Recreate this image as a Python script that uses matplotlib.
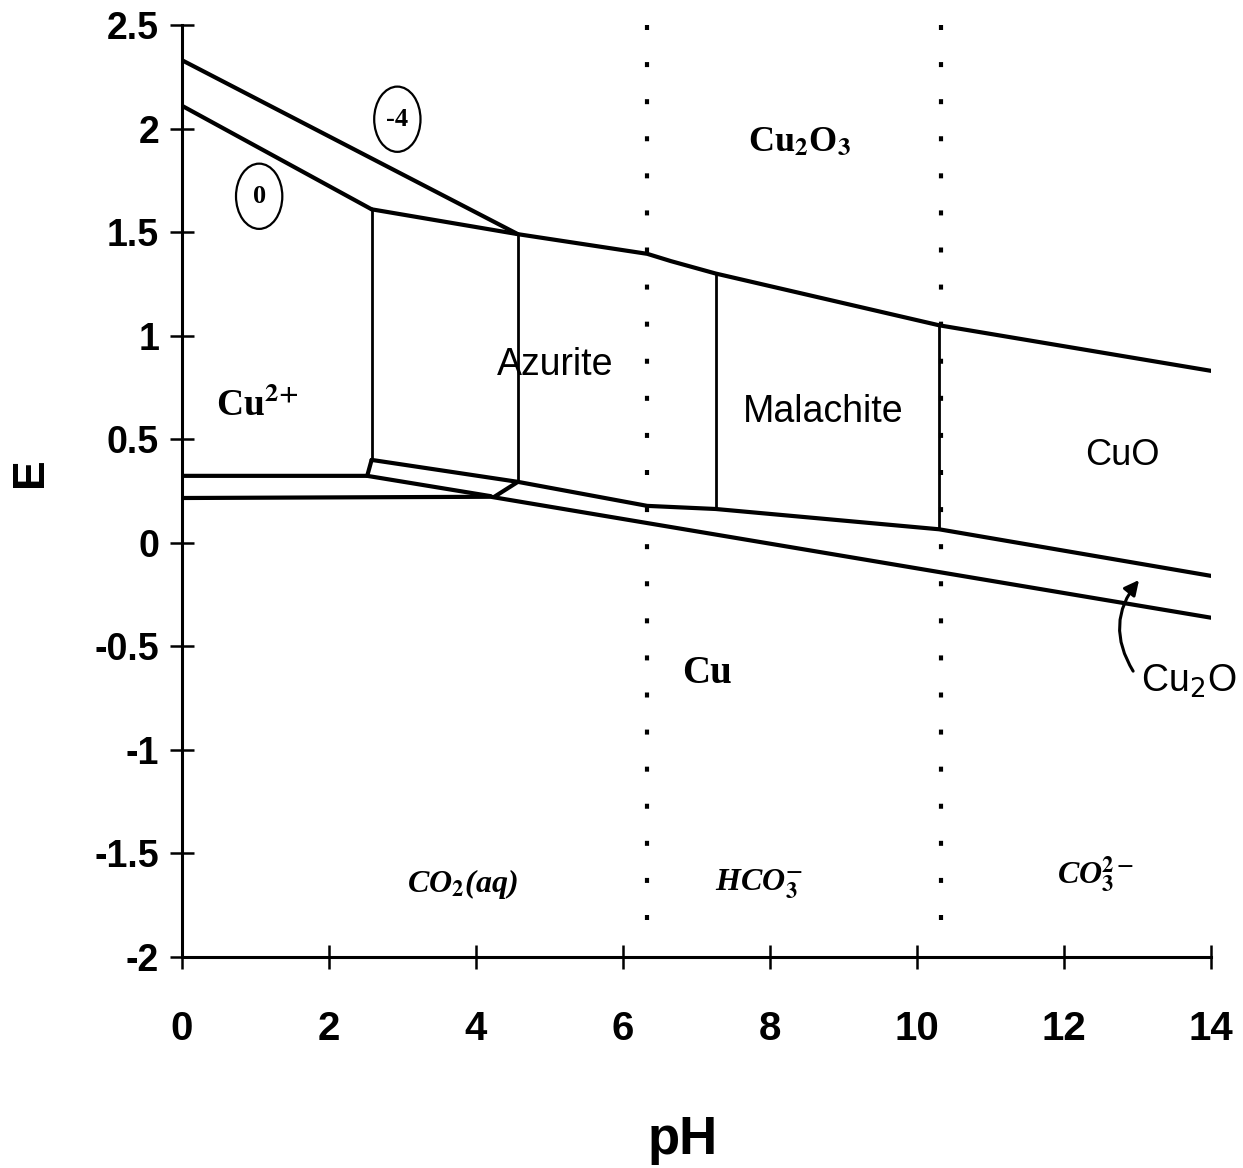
import matplotlib
matplotlib.use("Agg")
import matplotlib.pyplot as plt
from matplotlib.patches import Ellipse

# ---- data (pH, E) ----
ph_o2_m4 = [0.0, 4.57]
e_o2_m4 = [2.33, 1.49]

ph_o2_0 = [0.0, 2.58]
e_o2_0 = [2.11, 1.61]

ph_upper = [2.58, 4.57, 6.33, 6.65, 7.26, 10.30, 14.0]
e_upper = [1.61, 1.49, 1.395, 1.36, 1.30, 1.05, 0.83]

ph_middle = [2.58, 4.57, 6.33, 7.26, 10.30, 14.0]
e_middle = [0.40, 0.294, 0.178, 0.163, 0.065, -0.16]

ph_cu2_upper = [0.0, 2.52, 4.20]
e_cu2_upper = [0.323, 0.323, 0.225]

ph_cu_lower = [0.0, 4.20, 6.33, 14.0]
e_cu_lower = [0.216, 0.222, 0.095, -0.362]

# vertical boundaries: (pH, E top, E bottom)
vert_ph = [2.58, 4.57, 7.26, 10.30]
vert_top = [1.61, 1.49, 1.30, 1.05]
vert_bot = [0.40, 0.294, 0.163, 0.065]

# short connectors
conn_ph = [[2.58, 2.52], [4.57, 4.25]]
conn_e = [[0.40, 0.323], [0.294, 0.222]]

# carbonate speciation boundaries (pKa)
pka = [6.33, 10.33]

x_ticks = [0, 2, 4, 6, 8, 10, 12, 14]
y_ticks = [-2, -1.5, -1, -0.5, 0, 0.5, 1, 1.5, 2, 2.5]
y_ticklabels = ["-2", "-1.5", "-1", "-0.5", "0", "0.5", "1", "1.5", "2", "2.5"]

# ---- figure ----
fig = plt.figure(figsize=(12.43, 11.68), dpi=100)
ax = fig.add_axes([0.1464, 0.1807, 0.9743 - 0.1464, 0.9786 - 0.1807])
ax.set_xlim(0, 14)
ax.set_ylim(-2, 2.5)

lw = 3.0
kw = dict(color="black", lw=lw, solid_capstyle="round", solid_joinstyle="round")
ax.plot(ph_o2_m4, e_o2_m4, **kw)
ax.plot(ph_o2_0, e_o2_0, **kw)
ax.plot(ph_upper, e_upper, **kw)
ax.plot(ph_middle, e_middle, **kw)
ax.plot(ph_cu2_upper, e_cu2_upper, **kw)
ax.plot(ph_cu_lower, e_cu_lower, **kw)
for p, t, b in zip(vert_ph, vert_top, vert_bot):
    ax.plot([p, p], [t, b], color="black", lw=2.0)
for cp, ce in zip(conn_ph, conn_e):
    ax.plot(cp, ce, **kw)
for p in pka:
    ax.plot([p, p], [2.5, -1.88], color="black", lw=3.0,
            linestyle=(0, (1.2, 7.7)), dash_capstyle="butt")

# spines & ticks
for s in ["top", "right"]:
    ax.spines[s].set_visible(False)
for s in ["left", "bottom"]:
    ax.spines[s].set_linewidth(2.2)
ax.set_xticks(x_ticks)
ax.set_xticklabels([str(v) for v in x_ticks])
ax.set_yticks(y_ticks)
ax.set_yticklabels(y_ticklabels)
ax.tick_params(axis="both", direction="inout", length=17, width=1.8)
ax.tick_params(axis="x", pad=30)
ax.tick_params(axis="y", pad=8)
for lab in ax.get_xticklabels():
    lab.set_fontfamily("Liberation Sans")
    lab.set_fontweight("bold")
    lab.set_fontsize(29)
for lab in ax.get_yticklabels():
    lab.set_fontfamily("Liberation Sans")
    lab.set_fontweight("bold")
    lab.set_fontsize(27)

ax.set_xlabel("pH", fontfamily="Liberation Sans", fontweight="bold", fontsize=38)
ax.xaxis.set_label_coords(0.487, -0.17)
ax.set_ylabel("E", fontfamily="Liberation Sans", fontweight="bold", fontsize=32)
ax.yaxis.set_label_coords(-0.127, 0.52)

# ---- region labels ----
serif = "Liberation Serif"
sans = "Liberation Sans"
ax.text(1.02, 0.66, r"Cu$^{\mathbf{2\!+}}$", fontfamily=serif, fontweight="bold",
        math_fontfamily="stix", fontsize=27, ha="center", va="center")
ax.text(5.08, 0.86, "Azurite", fontfamily=sans, fontsize=27, ha="center", va="center")
ax.text(8.72, 0.63, "Malachite", fontfamily=sans, fontsize=27, ha="center", va="center")
ax.text(12.79, 0.42, "CuO", fontfamily=sans, fontsize=26, ha="center", va="center")
ax.text(8.41, 1.93, r"Cu$_{\mathbf{2}}$O$_{\mathbf{3}}$", fontfamily=serif, fontweight="bold",
        math_fontfamily="stix", fontsize=26, ha="center", va="center")
ax.text(7.14, -0.63, "Cu", fontfamily=serif, fontweight="bold",
        fontsize=28, ha="center", va="center")
ax.text(13.70, -0.67, r"Cu$_2$O", fontfamily=sans, fontsize=27,
        math_fontfamily="dejavusans", ha="center", va="center", clip_on=False)

# carbonate species labels
ax.text(3.82, -1.65, r"CO$_{\mathbf{2}}$(aq)", fontfamily=serif, fontweight="bold",
        fontstyle="italic", math_fontfamily="stix", fontsize=23, ha="center", va="center")
ax.text(7.85, -1.65, r"HCO$_{\mathbf{3}}^{\mathbf{-}}$", fontfamily=serif, fontweight="bold",
        fontstyle="italic", math_fontfamily="stix", fontsize=23, ha="center", va="center")
ax.text(12.43, -1.60, r"CO$_{\mathbf{3}}^{\mathbf{2-}}$", fontfamily=serif, fontweight="bold",
        fontstyle="italic", math_fontfamily="stix", fontsize=23, ha="center", va="center")

# circled labels (0 and -4 lines)
for cx, cy, txt in [(1.05, 1.673, "0"), (2.93, 2.045, "-4")]:
    ax.add_patch(Ellipse((cx, cy), 0.63, 0.315, fill=False, lw=1.6, color="black"))
    ax.text(cx, cy, txt, fontfamily=serif, fontweight="bold", fontsize=19,
            ha="center", va="center")

# curved arrow to Cu2O band
ax.annotate("", xy=(13.02, -0.18), xytext=(12.94, -0.62),
            arrowprops=dict(arrowstyle="-|>", color="black", lw=2.2,
                            connectionstyle="arc3,rad=-0.35",
                            mutation_scale=22, shrinkA=0, shrinkB=0))

fig.savefig("out.png", dpi=100)
